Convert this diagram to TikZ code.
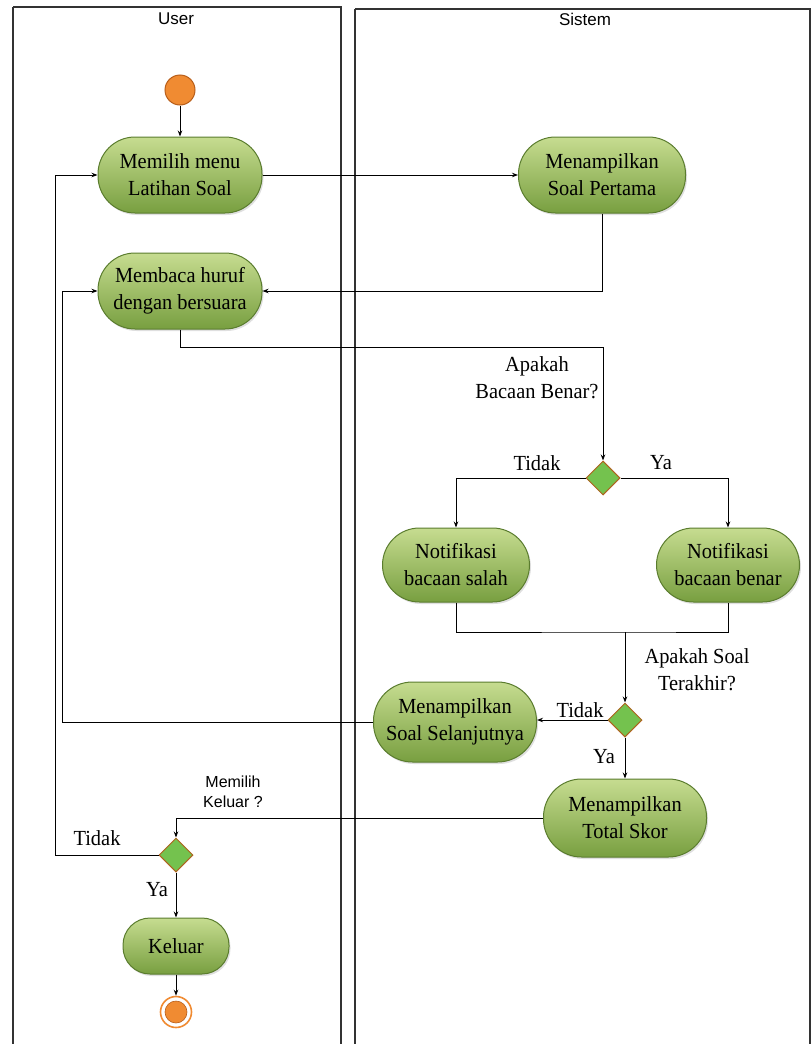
\documentclass[tikz,border=0pt]{standalone}
\usepackage{fontspec}
\setmainfont[FakeStretch=0.95]{Liberation Serif}
\newfontfamily\lanefont{Liberation Sans}
\usetikzlibrary{arrows.meta,shapes.geometric,shadows}

\definecolor{actTop}{HTML}{C6DC90}
\definecolor{actBot}{HTML}{789F40}
\definecolor{actLine}{HTML}{5A7C2E}
\definecolor{dotFill}{HTML}{F08B32}
\definecolor{dotLine}{HTML}{B85E1A}
\definecolor{decFill}{HTML}{74C24E}
\definecolor{decLine}{HTML}{B0621E}
\definecolor{laneLine}{HTML}{333333}

\tikzset{
  act/.style={rectangle, draw=actLine, line width=1pt,
    top color=actTop, bottom color=actBot,
    align=center, font=\fontsize{21.5}{27}\selectfont, inner sep=0pt,
    minimum width=164pt, minimum height=76pt, rounded corners=37pt,
    drop shadow={opacity=0.25, shadow xshift=1.5pt, shadow yshift=-2pt}},
  decision/.style={diamond, draw=decLine, line width=1pt, fill=decFill,
    minimum width=34pt, minimum height=34pt, inner sep=0pt},
  startdot/.style={circle, draw=dotLine, line width=1pt, fill=dotFill,
    minimum size=30pt, inner sep=0pt},
  flow/.style={draw=black, line width=1pt, -{Stealth[length=6pt,width=4.5pt]}},
  plain/.style={draw=black, line width=1pt},
  lane/.style={draw=laneLine, line width=1.5pt},
  lanetitle/.style={font=\lanefont\fontsize{17}{20}\selectfont},
  guard/.style={font=\fontsize{21.5}{27}\selectfont, align=center},
  sguard/.style={font=\lanefont\fontsize{16}{20}\selectfont, align=center}
}

\begin{document}
\begin{tikzpicture}[x=1pt,y=-1pt]
\useasboundingbox (0,0) rectangle (811,1044);

% swimlanes
\draw[lane] (13,7) -- (13,1060) (13,7) -- (341,7) -- (341,1060);
\draw[lane] (355,9) -- (355,1060) (355,9) -- (810,9) -- (810,1060);
\node[lanetitle] (userlane) at (176,19) {User};
\node[lanetitle] (syslane) at (585,19) {Sistem};

% activities
\node[startdot] (start) at (180,90) {};
\node[act] (pilih) at (180,175) {Memilih menu\\Latihan Soal};
\node[act, minimum width=167pt] (pertama) at (602,175) {Menampilkan\\Soal Pertama};
\node[act] (baca) at (180,291) {Membaca huruf\\dengan bersuara};
\node[decision] (d1) at (603,478) {};
\node[act, minimum width=147pt, minimum height=74pt] (salah) at (456,565) {Notifikasi\\bacaan salah};
\node[act, minimum width=143pt, minimum height=74pt] (benar) at (728,565) {Notifikasi\\bacaan benar};
\node[decision] (d2) at (625,720) {};
\node[act, minimum width=163pt, minimum height=80pt, rounded corners=39pt] (lanjut) at (455,722) {Menampilkan\\Soal Selanjutnya};
\node[act, minimum width=163pt, minimum height=78pt, rounded corners=38pt] (skor) at (625,818) {Menampilkan\\Total Skor};
\node[decision] (d3) at (176,855) {};
\node[act, minimum width=106pt, minimum height=56pt, rounded corners=27pt] (keluar) at (176,946) {Keluar};
\node[circle, draw=dotFill, line width=1.6pt, fill=white, minimum size=31pt, inner sep=0pt] (end) at (176,1012) {};
\fill[dotFill, draw=dotLine, line width=0.6pt] (end.center) circle (11pt);

% bend points
\coordinate (m) at (625,632);
\coordinate (loopA) at (62,722);
\coordinate (loopB) at (55,855);

% flows
\draw[flow] (start) -- (pilih);
\draw[flow] (pilih) -- (pertama);
\draw[flow] (pertama.south) |- (baca.east);
\draw[flow] (baca.south) -- ++(0,18) -| (d1.north);
\draw[flow] (d1.west) -| (salah.north);
\draw[flow] (d1.east) -| (benar.north);
\draw[plain] (salah.south) |- (m) -| (benar.south);
\draw[flow] (m) -- (d2.north);
\draw[flow] (d2.west) -- (d2.west -| lanjut.east);
\draw[flow] (lanjut.west) -- (loopA) |- (baca.west);
\draw[flow] (d2.south) -- (skor.north);
\draw[flow] (skor.west) -| (d3.north);
\draw[flow] (d3.west) -- (loopB) |- (pilih.west);
\draw[flow] (d3.south) -- (keluar.north);
\draw[flow] (keluar.south) -- (end.north);

% guards
\node[guard] (g1) at (537,378) {Apakah\\Bacaan Benar?};
\node[guard] (g1n) at (537,463) {Tidak};
\node[guard] (g1y) at (661,463) {Ya};
\node[guard] (g2) at (697,670) {Apakah Soal\\Terakhir?};
\node[guard] (g2n) at (580,710) {Tidak};
\node[guard] (g2y) at (604,757) {Ya};
\node[sguard] (g3) at (233,792) {Memilih\\Keluar ?};
\node[guard] (g3n) at (97,838) {Tidak};
\node[guard] (g3y) at (157,890) {Ya};
\end{tikzpicture}
\end{document}
